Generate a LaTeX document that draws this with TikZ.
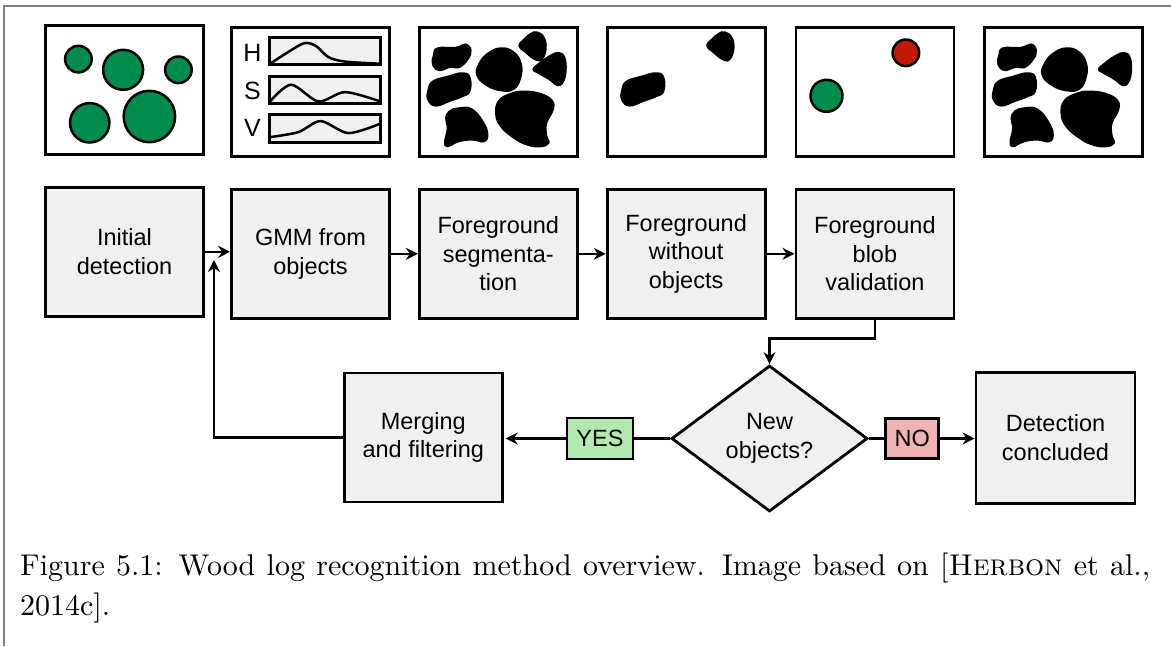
\documentclass[tikz,border=0pt]{standalone}
\usepackage{fontspec}
\setsansfont{Liberation Sans}
\newfontfamily\capfont{lmroman10-regular.otf}[SmallCapsFont=lmromancaps10-regular.otf]
\usetikzlibrary{arrows.meta,shapes.geometric,positioning}

\definecolor{boxgray}{HTML}{F0F0F0}
\definecolor{logGreen}{HTML}{008C4C}
\definecolor{logRed}{HTML}{C01A00}
\definecolor{yesGreen}{HTML}{B2E9B0}
\definecolor{noRed}{HTML}{F1B2B4}

\newcommand\boxfont{\sffamily\fontsize{23.5}{28.5}\selectfont}

\tikzset{
  frame/.style={draw,line width=2.8pt,
                minimum width=158pt,minimum height=129pt,inner sep=0pt},
  stepbox/.style={frame,fill=boxgray,align=center,font=\boxfont},
  decision/.style={diamond,draw,line width=2.8pt,fill=boxgray,
                   minimum width=196pt,minimum height=146pt,inner sep=0pt,
                   align=center,font=\boxfont},
  answer/.style={draw,line width=2.8pt,inner sep=0pt,font=\boxfont},
  wire/.style={line width=2.5pt},
  arr/.style={wire,-{Stealth[length=12pt,width=12pt,inset=4pt]}},
  logline/.style={draw=black,line width=2.5pt},
}

\begin{document}
\begin{tikzpicture}[x=1pt,y=1pt]

\useasboundingbox (0,0) rectangle (1171,-646);

% blob outlines, measured from the top left corner of a frame
\def\blobA{plot[smooth cycle,tension=0.75] coordinates {(19.3,-21.3) (37.7,-20.7) (47.7,-17.3)
  (53.7,-24) (50.3,-34) (41,-42.3) (32.7,-41.7) (21,-45) (14,-38.3) (15,-29)}}
\def\blobB{plot[smooth cycle,tension=0.75] coordinates {(14.3,-54.7) (29.3,-49.7) (44.3,-46.2)
  (52.5,-50.7) (52.5,-65.7) (44.3,-71.2) (32.7,-75.5) (17.7,-80.5) (9.5,-74) (9.5,-64)}}
\def\blobC{plot[smooth cycle,tension=0.75] coordinates {(41,-81.2) (54.3,-82.3) (66,-95.7)
  (70.5,-109) (66,-116.2) (54.3,-114.5) (41,-116.2) (29.3,-121.2) (26.2,-115.7)
  (28.8,-102.3) (27.2,-92.3) (31,-84.5)}}
\def\blobD{plot[smooth cycle,tension=0.75] coordinates {(82.7,-21.2) (96,-25.2) (103.8,-37.3)
  (103.2,-52.3) (96,-63.8) (82.7,-65.2) (67.7,-59.5) (58.2,-49) (60.5,-37.3) (69.3,-26.8)}}
\def\blobE{plot[smooth cycle,tension=0.75] coordinates {(119.3,-5.2) (126.5,-10.7) (128.8,-22.3)
  (124.8,-33.5) (117.7,-34.5) (107.7,-27.3) (100.5,-19.7) (106,-12.3) (112.7,-6.8)}}
\def\blobF{plot[smooth cycle,tension=0.75] coordinates {(141,-25.8) (147.2,-30.7) (148.8,-44)
  (145.8,-56.3) (139.3,-60.2) (131,-54) (119.3,-47.3) (114.5,-43) (122.7,-35.2) (132.7,-28.5)}}
\def\blobG{plot[smooth cycle,tension=0.75] coordinates {(106,-64.5) (122.7,-66.8) (134.8,-74)
  (135.8,-84) (129.3,-97.3) (129.3,-109) (131.5,-117.3) (122.7,-121.2) (109.3,-119.5)
  (96,-112.8) (82.2,-100.7) (77.2,-87.3) (80.5,-74) (92.7,-66.8)}}

% page rule
\draw[gray,line width=1.5pt] (4,-646) -- (4,-6) -- (1171,-6);

% processing steps
\node[stepbox] (init) at (124.5,-251.8) {Initial\\detection};
\node[stepbox] (gmm) at (310.5,-253.8) {GMM from\\objects};
\node[stepbox,right=27pt of gmm] (seg) {Foreground\\segmenta-\\tion};
\node[stepbox,right=27pt of seg] (fgclean) {Foreground\\without\\objects};
\node[stepbox,right=28pt of fgclean] (valid) {Foreground\\blob\\validation};

% example images
\node[frame,above=30pt of init] (circles) {};
\node[frame,above=30pt of gmm] (hsv) {};
\node[frame,above=30pt of seg] (blobs) {};
\node[frame,above=30pt of fgclean] (leftover) {};
\node[frame,above=30pt of valid] (checked) {};
\node[frame,right=28pt of checked] (final) {};

\begin{scope}[shift={(circles.north west)},logline,fill=logGreen]
  \filldraw (34.3,-35) circle (13.3);
  \filldraw (79,-45.7) circle (20);
  \filldraw (134.3,-45.7) circle (13.3);
  \filldraw (45.6,-98.7) circle (19.7);
  \filldraw (105.3,-92.4) circle (25.7);
\end{scope}

\begin{scope}[shift={(hsv.north west)}]
  \node[font=\sffamily\fontsize{25}{25}\selectfont] (chH) at (22.3,-26.6) {H};
  \node[font=\sffamily\fontsize{25}{25}\selectfont] (chS) at (22.3,-64.3) {S};
  \node[font=\sffamily\fontsize{25}{25}\selectfont] (chV) at (22.3,-102) {V};
  \filldraw[fill=boxgray,line width=2.8pt] (39.3,-11.6) rectangle (150.6,-38.6);
  \filldraw[fill=boxgray,line width=2.8pt] (39.3,-50.6) rectangle (150.6,-77.6);
  \filldraw[fill=boxgray,line width=2.8pt] (39.3,-88.6) rectangle (150.6,-116);
  \draw[line width=2.5pt] plot[smooth] coordinates
    {(40,-37.6) (58,-26) (74.3,-17) (86,-20) (98.3,-31) (115,-35.5) (150,-37.6)};
  \draw[line width=2.5pt] plot[smooth] coordinates
    {(40,-75.3) (61,-58.6) (88.3,-75.3) (115,-66) (150,-75.3)};
  \draw[line width=2.5pt] plot[smooth] coordinates
    {(40,-111) (68.3,-106) (90.6,-95) (118.3,-107) (150,-97.6)};
\end{scope}

\begin{scope}[shift={(blobs.north west)}]
  \fill \blobA; \fill \blobB; \fill \blobC; \fill \blobD;
  \fill \blobE; \fill \blobF; \fill \blobG;
\end{scope}

\begin{scope}[shift={(leftover.north west)}]
  \fill \blobE;
  \fill[xshift=6pt] \blobB;
\end{scope}

\begin{scope}[shift={(checked.north west)},logline]
  \filldraw[fill=logRed] (111.4,-26.7) circle (13.3);
  \filldraw[fill=logGreen] (32,-69.7) circle (16);
\end{scope}

\begin{scope}[shift={(final.north west)}]
  \fill \blobA; \fill \blobB; \fill \blobC; \fill \blobD;
  \fill \blobF; \fill \blobG;
\end{scope}

% decision loop
\node[decision] (newobj) at (769.5,-438.5) {New\\objects?};
\node[stepbox] (merge) at (423.3,-437.5) {Merging\\and filtering};
\node[stepbox,minimum width=159pt,minimum height=131pt]
      (done) at (1055.5,-437.7) {Detection\\concluded};
\node[answer,fill=yesGreen,minimum width=66pt,minimum height=41pt]
      (yes) at (600,-438.5) {YES};
\node[answer,fill=noRed,minimum width=53pt,minimum height=40pt]
      (no) at (912.3,-438.5) {NO};
\coordinate (join) at (214,-260);

\draw[arr] (init.east) -- (init.east -| gmm.west);
\draw[arr] (gmm) -- (seg);
\draw[arr] (seg) -- (fgclean);
\draw[arr] (fgclean) -- (valid);
\draw[arr] (valid.south) -- ++(0,-19) -| (newobj.north);
\draw[wire] (newobj.west) -- (yes.east);
\draw[arr,shorten >=2pt] (yes.west) -- (yes.west -| merge.east);
\draw[wire] (newobj.east) -- (no.west);
\draw[arr] (no.east) -- (no.east -| done.west);
\draw[arr] (merge.west) -| (join);

% caption
\node[anchor=north west,inner sep=0pt,text width=1130pt,align=justify,
      font=\capfont\fontsize{30}{40}\selectfont] (caption) at (20,-553)
  {Figure 5.1: Wood log recognition method overview. Image based on
   [\textsc{Herbon} et al.,\linebreak 2014c].};

\end{tikzpicture}
\end{document}
